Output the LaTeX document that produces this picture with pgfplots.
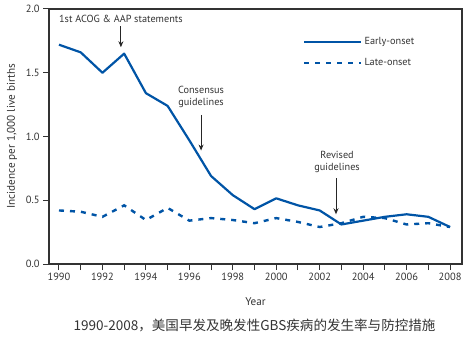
\documentclass[border=0pt]{standalone}
\usepackage{fontspec}
\setmainfont{PT Sans}
\newfontfamily\cjk{Noto Sans CJK SC}
\usepackage{pgfplots}
\pgfplotsset{compat=1.18}
\usetikzlibrary{arrows.meta}
\definecolor{cdcblue}{RGB}{0,84,166}
\definecolor{axgray}{RGB}{51,51,51}
\begin{document}
\begin{tikzpicture}
\useasboundingbox (-49bp,-76bp) rectangle (424bp,264bp);
\begin{axis}[
  at={(0bp,0bp)}, anchor=south west,
  scale only axis, width=413bp, height=255bp,
  xmin=1989.54, xmax=2008.55, ymin=0, ymax=2,
  clip=false,
  axis line style={axgray, line width=1.2bp},
  xtick={1990,1992,...,2008}, minor xtick={1991,1993,...,2007},
  ytick={0,0.5,1,1.5,2},
  tick style={axgray, line width=1bp},
  major tick length=6bp, minor tick length=6bp,
  tick align=outside, xtick pos=bottom, ytick pos=left,
  /pgf/number format/assume math mode=true,
  xticklabel style={/pgf/number format/1000 sep={}, font=\fontsize{10.5}{12}\selectfont, text=axgray},
  yticklabel style={/pgf/number format/.cd, fixed, fixed zerofill, precision=1, /tikz/.cd, font=\fontsize{10.5}{12}\selectfont, text=axgray},
  xlabel={Year}, ylabel={Incidence per 1,000 live births},
  label style={font=\fontsize{11.2}{12}\selectfont, text=axgray},
  xlabel style={at={(axis description cs:0.5,-0.149)}, anchor=center},
  ylabel style={at={(axis description cs:-0.0896,0.5)}, anchor=center},
  legend style={draw=none, fill=none, inner sep=0pt, at={(axis description cs:0.615,0.896)}, anchor=north west, font=\fontsize{10.3}{12}\selectfont, text=axgray, row sep=8bp, cells={anchor=west}},
  legend image code/.code={\draw[#1] (0bp,0bp) -- (57bp,0bp);},
]
\addplot[cdcblue, line width=2.2bp, line join=round] coordinates {
 (1990,1.72) (1991,1.66) (1992,1.50) (1993,1.65) (1994,1.34) (1995,1.24)
 (1996,0.97) (1997,0.69) (1998,0.54) (1999,0.43) (2000,0.515) (2001,0.46)
 (2002,0.42) (2003,0.31) (2004,0.34) (2005,0.37) (2006,0.39) (2007,0.37) (2008,0.29)};
\addlegendentry{Early-onset}
\addplot[cdcblue, line width=2.4bp, dash pattern=on 5bp off 6bp] coordinates {
 (1990,0.42) (1991,0.41) (1992,0.37) (1993,0.46) (1994,0.345) (1995,0.44)
 (1996,0.34) (1997,0.36) (1998,0.345) (1999,0.32) (2000,0.36) (2001,0.33)
 (2002,0.29) (2003,0.32) (2004,0.37) (2005,0.36) (2006,0.31) (2007,0.32) (2008,0.29)};
\addlegendentry{Late-onset}
\node[font=\fontsize{10.3}{12}\selectfont, text=axgray] at (axis cs:1992.85,1.925) {1st ACOG \& AAP statements};
\draw[black!85, line width=0.9bp, -{Stealth[length=6bp,width=5bp]}] (axis cs:1992.85,1.865) -- (axis cs:1992.85,1.70);
\node[font=\fontsize{10.3}{12.5}\selectfont, text=axgray, align=center] at (axis cs:1996.54,1.31) {Consensus\\guidelines};
\draw[black!85, line width=0.9bp, -{Stealth[length=6bp,width=5bp]}] (axis cs:1996.54,1.17) -- (axis cs:1996.54,0.89);
\node[font=\fontsize{10.3}{12.5}\selectfont, text=axgray, align=center] at (axis cs:2002.8,0.80) {Revised\\guidelines};
\draw[black!85, line width=0.9bp, -{Stealth[length=6bp,width=5bp]}] (axis cs:2002.75,0.672) -- (axis cs:2002.75,0.39);
\end{axis}
\node[font=\cjk\fontsize{13.6}{15}\selectfont, text=axgray] at (205.5bp,-61bp) {1990-2008，美国早发及晚发性GBS疾病的发生率与防控措施};
\end{tikzpicture}
\end{document}
